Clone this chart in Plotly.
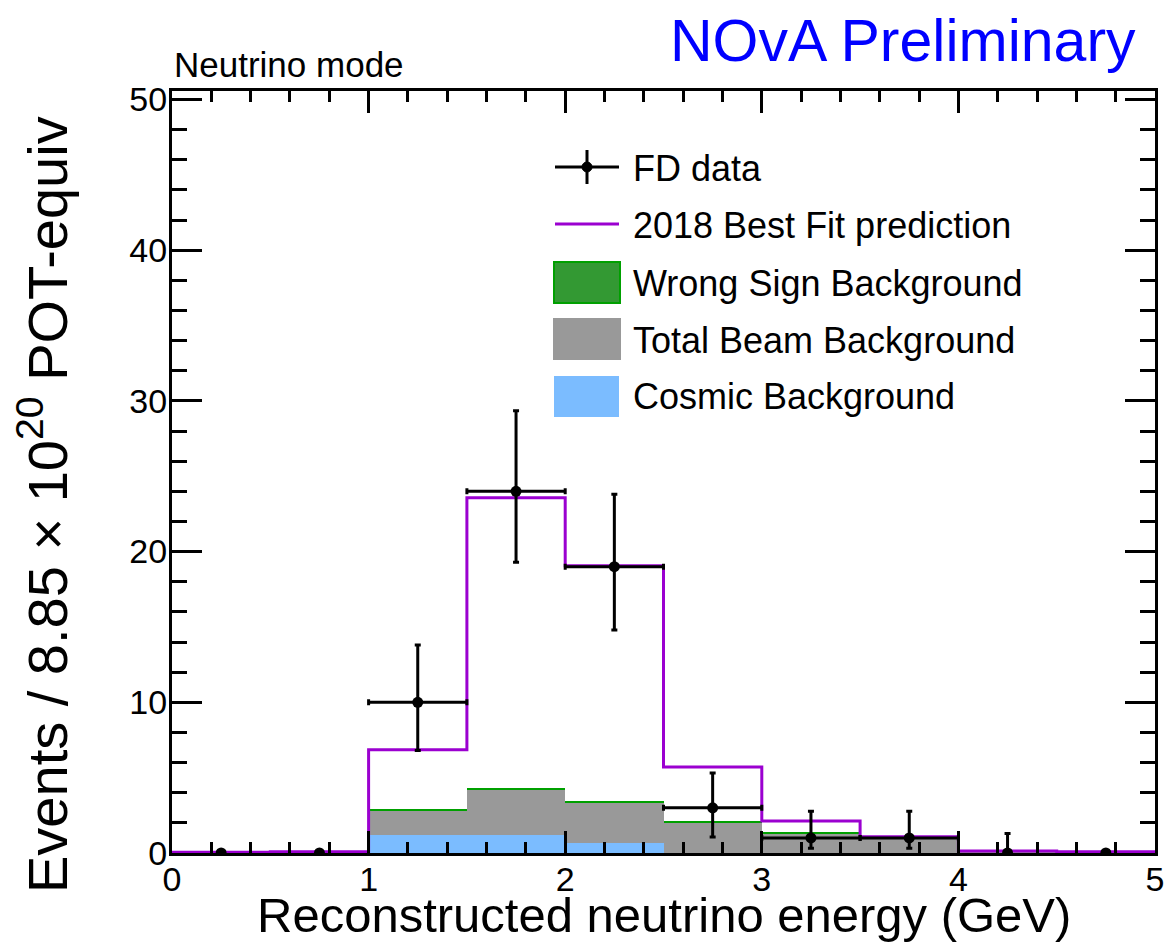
import plotly.graph_objects as go

# ---------------- data ----------------
bin_edges = [0.0, 0.5, 1.0, 1.5, 2.0, 2.5, 3.0, 3.5, 4.0, 4.5, 5.0]
data_counts = [0, 0, 10, 24, 19, 3, 1, 1, 0, 0]
data_err_up = [0, 0, 3.8, 5.35, 4.8, 2.3, 1.77, 1.77, 1.3, 0]
data_err_dn = [0, 0, 3.2, 4.7, 4.2, 1.94, 0.69, 0.69, 0, 0]
data_xerr = [0, 0, 0.25, 0.25, 0.25, 0.25, 0.25, 0.25, 0, 0]
prediction = [0.05, 0.08, 6.85, 23.57, 19.06, 5.71, 2.12, 1.08, 0.13, 0.08]
cosmic_bkg = [0, 0, 1.22, 1.22, 0.64, 0, 0, 0, 0, 0]
beam_bkg = [0, 0, 1.61, 2.93, 2.69, 2.02, 1.29, 0.97, 0.02, 0]
wrong_sign_bkg = [0, 0, 0.07, 0.15, 0.12, 0.08, 0.06, 0.03, 0, 0]

legend_labels = ["FD data", "2018 Best Fit prediction", "Wrong Sign Background",
                 "Total Beam Background", "Cosmic Background"]

centers = [(a + b) / 2 for a, b in zip(bin_edges[:-1], bin_edges[1:])]
widths = [b - a for a, b in zip(bin_edges[:-1], bin_edges[1:])]

FONT = "Liberation Sans, Arial, Helvetica, sans-serif"
PURPLE = "#9b00d0"
GRAY = "#999999"
BLUE = "#7bbcff"
GREEN_FILL = "#339933"
GREEN_LINE = "#00a000"

fig = go.Figure()

fig.add_trace(go.Bar(x=centers, y=cosmic_bkg, width=widths, marker=dict(color=BLUE, line=dict(width=0)),
                     name=legend_labels[4], showlegend=False))
fig.add_trace(go.Bar(x=centers, y=beam_bkg, width=widths, marker=dict(color=GRAY, line=dict(width=0)),
                     name=legend_labels[3], showlegend=False))
fig.add_trace(go.Bar(x=centers, y=wrong_sign_bkg, width=widths, marker=dict(color=GREEN_LINE, line=dict(width=0)),
                     name=legend_labels[2], showlegend=False))

fig.add_trace(go.Scatter(x=bin_edges, y=prediction + [prediction[-1]], mode="lines",
                         line=dict(color=PURPLE, width=3, shape="hv"),
                         name=legend_labels[1], showlegend=False))

fig.add_trace(go.Scatter(x=centers, y=data_counts, mode="markers",
                         marker=dict(color="black", size=11),
                         error_y=dict(type="data", symmetric=False, array=data_err_up,
                                      arrayminus=data_err_dn, color="black", thickness=3, width=3),
                         error_x=dict(type="data", array=data_xerr, color="black", thickness=3, width=3),
                         name=legend_labels[0], showlegend=False))

fig.update_layout(
    width=1166, height=944, autosize=False,
    margin=dict(l=172, r=11, t=91, b=91, autoexpand=False),
    paper_bgcolor="white", plot_bgcolor="white",
    barmode="stack", bargap=0,
    font=dict(family=FONT, color="black"),
    showlegend=False,
)

fig.update_xaxes(range=[0, 5], showgrid=False, zeroline=False, showline=True, linecolor="black",
                 linewidth=3, mirror="allticks", ticks="inside", ticklen=22, tickwidth=2.5,
                 tickcolor="black", dtick=1, tick0=0, tickfont=dict(size=34, family=FONT),
                 ticklabelstandoff=-6, automargin=False,
                 minor=dict(ticks="inside", ticklen=11, tickwidth=2.5, dtick=0.2, tickcolor="black",
                            showgrid=False))
fig.update_yaxes(range=[0, 50.56], showgrid=False, zeroline=False, showline=True, linecolor="black",
                 linewidth=3, mirror="allticks", ticks="inside", ticklen=30, tickwidth=2.5,
                 tickcolor="black", dtick=10, tick0=0, tickfont=dict(size=34, family=FONT),
                 ticklabelstandoff=-5, automargin=False,
                 minor=dict(ticks="inside", ticklen=15, tickwidth=2.5, dtick=2, tickcolor="black",
                            showgrid=False))

W0, W1, H0, H1 = 172, 1155, 853, 91


def px(x):
    return (x - W0) / (W1 - W0)


def py(y):
    return (H0 - y) / (H0 - H1)


annos = [
    dict(text="NOvA Preliminary", x=px(1138), y=py(41), xanchor="right", yanchor="middle",
         font=dict(size=59, color="#0000ff", family=FONT)),
    dict(text="Neutrino mode", x=px(172), y=py(65), xanchor="left", yanchor="middle",
         font=dict(size=35, color="black", family=FONT)),
    dict(text="Reconstructed neutrino energy (GeV)", x=0.5, y=py(915), xanchor="center", yanchor="middle",
         font=dict(size=49, color="black", family=FONT)),
    dict(text="Events / 8.85 × 10<sup>20</sup> POT-equiv", x=px(44), y=py(505), xanchor="center",
         yanchor="middle", textangle=-90, font=dict(size=56, color="black", family=FONT)),
]
leg_y = [168, 225, 283, 340, 397]
for lab, yy in zip(legend_labels, leg_y):
    annos.append(dict(text=lab, x=px(631), y=py(yy), xanchor="left", yanchor="middle",
                      font=dict(size=36, color="black", family=FONT)))
for a in annos:
    a.update(xref="paper", yref="paper", showarrow=False)
fig.update_layout(annotations=annos)

shapes = [
    # FD data symbol
    dict(type="line", x0=px(555), x1=px(619), y0=py(167), y1=py(167), line=dict(color="black", width=3)),
    dict(type="line", x0=px(587), x1=px(587), y0=py(150), y1=py(184), line=dict(color="black", width=3)),
    dict(type="circle", x0=px(582), x1=px(592), y0=py(172), y1=py(162), fillcolor="black",
         line=dict(color="black", width=1)),
    # prediction
    dict(type="line", x0=px(555), x1=px(619), y0=py(224), y1=py(224), line=dict(color=PURPLE, width=3)),
    # boxes
    dict(type="rect", x0=px(554), x1=px(620), y0=py(303), y1=py(262), fillcolor=GREEN_FILL,
         line=dict(color=GREEN_LINE, width=2)),
    dict(type="rect", x0=px(553), x1=px(621), y0=py(360), y1=py(318), fillcolor=GRAY,
         line=dict(width=0)),
    dict(type="rect", x0=px(554), x1=px(619), y0=py(417), y1=py(376), fillcolor=BLUE,
         line=dict(width=0)),
]
for s in shapes:
    s.update(xref="paper", yref="paper")
fig.update_layout(shapes=shapes)

fig.write_html("out.html", config={"displayModeBar": False},
               post_script="document.body.style.margin='0';document.body.style.overflow='hidden';")
